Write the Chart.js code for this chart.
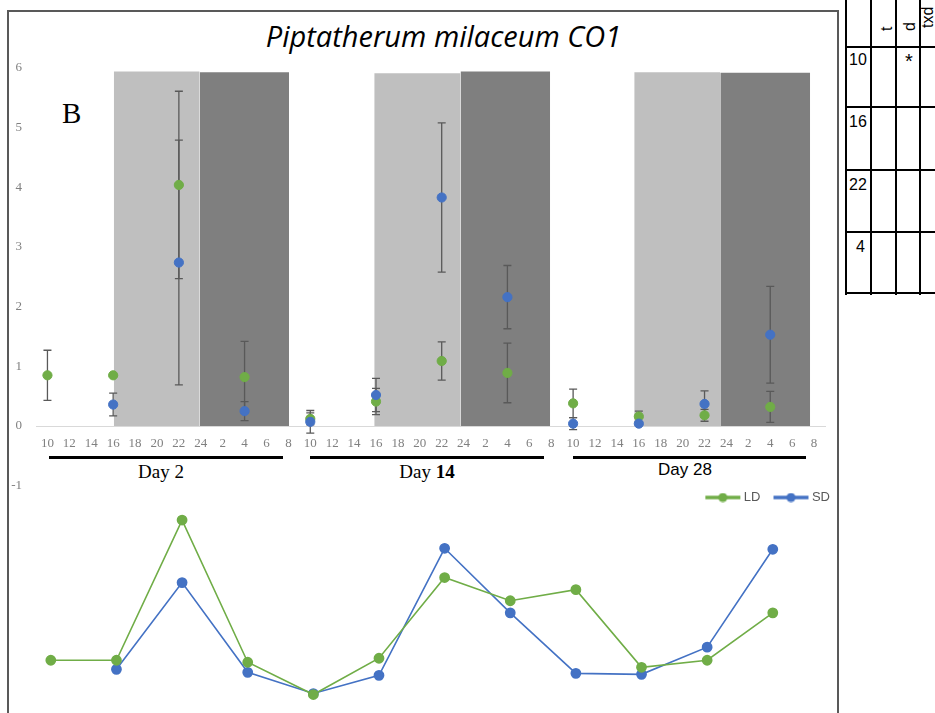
<!DOCTYPE html>
<html>
<head>
<meta charset="utf-8">
<script src="https://cdn.jsdelivr.net/npm/chart.js@4.4.1/dist/chart.umd.min.js"></script>
<style>
  html, body { margin: 0; padding: 0; background: #fff; }
  #stage { position: relative; width: 935px; height: 713px; overflow: hidden; }
  .abs { position: absolute; }
  #frame { left: 7px; top: 10px; width: 828px; height: 720px; border: 2px solid #595959; border-bottom: none; }
  #title { left: 0; top: 19px; width: 887px; text-align: center; font: italic 29px/34px "Open Sans", sans-serif; color: #000; white-space: nowrap; }
  #panel { left: 62px; top: 99px; font: 29px/29px "Liberation Serif", serif; color: #000; }
  .day { width: 120px; text-align: center; color: #000; white-space: nowrap; }
  .serif { font: 19px/19px "Liberation Serif", serif; }
  .sans { font: 17px/17px "Liberation Sans", sans-serif; }
  .bar { height: 3px; background: #000; }
  .vl { width: 2px; background: #000; top: -5px; height: 300px; }
  .hl { height: 2px; background: #000; left: 845px; width: 100px; }
  .cell { font: 16px/16px "Liberation Sans", sans-serif; color: #000; }
  .rot { font: 16px/16px "Liberation Sans", sans-serif; width: 16px; height: 34px; top: -3px;
         writing-mode: vertical-rl; transform: rotate(180deg); color: #000; white-space: nowrap; }
  canvas { position: absolute; }
</style>
</head>
<body>
<div id="stage">
  <div id="frame" class="abs"></div>
  <div id="title" class="abs">Piptatherum milaceum CO1</div>
  <div id="panel" class="abs">B</div>

  <div class="abs day serif" style="left:101px;top:462px;">Day 2</div>
  <div class="abs day serif" style="left:367px;top:462px;">Day <b>14</b></div>
  <div class="abs day sans" style="left:625px;top:461px;">Day 28</div>
  <div class="abs bar" style="left:49px;top:456px;width:234px;"></div>
  <div class="abs bar" style="left:310px;top:456px;width:234px;"></div>
  <div class="abs bar" style="left:573px;top:456px;width:233px;"></div>

  <!-- cropped statistics table on the right -->
  <div class="abs vl" style="left:845px;"></div>
  <div class="abs vl" style="left:870px;"></div>
  <div class="abs vl" style="left:895px;"></div>
  <div class="abs vl" style="left:919px;"></div>
  <div class="abs hl" style="top:46px;"></div>
  <div class="abs hl" style="top:106px;"></div>
  <div class="abs hl" style="top:169px;"></div>
  <div class="abs hl" style="top:231px;"></div>
  <div class="abs hl" style="top:292px;"></div>
  <div class="abs rot" style="left:879px;">t</div>
  <div class="abs rot" style="left:902px;">d</div>
  <div class="abs rot" style="left:920px;top:-6px;">txd</div>
  <div class="abs cell" style="left:849px;top:52px;">10</div>
  <div class="abs cell" style="left:905px;top:53px;font-size:20px;">*</div>
  <div class="abs cell" style="left:849px;top:114px;">16</div>
  <div class="abs cell" style="left:849px;top:177px;">22</div>
  <div class="abs cell" style="left:856px;top:239px;">4</div>

  <canvas id="dotsChart" width="830" height="498" style="left:8px;top:10px;"></canvas>
  <canvas id="lineChart" width="838" height="257" style="left:8px;top:475px;"></canvas>
</div>

<script>
// hour tick labels, repeated for every sampling day
const hourLabels = ['10', '12', '14', '16', '18', '20', '22', '24', '2', '4', '6', '8'];
const dayLabels = ['Day 2', 'Day 14', 'Day 28'];
const sampledHours = ['10', '16', '22', '4'];

// mean expression and error (top panel), one value per sample in day order
const ldMeans = [0.85, 0.85, 4.04, 0.82, 0.12, 0.41, 1.09, 0.89, 0.38, 0.16, 0.18, 0.32];
const ldErr   = [0.42, 0,    1.57, 0.60, 0.10, 0.22, 0.32, 0.50, 0.24, 0.09, 0.10, 0.26];
const sdMeans = [null, 0.36, 2.74, 0.25, 0.07, 0.52, 3.83, 2.16, 0.04, 0.04, 0.37, 1.53];
const sdErr   = [null, 0.19, 2.05, 0.16, 0.19, 0.28, 1.25, 0.53, 0.10, 0,    0.22, 0.81];

// light / dark periods on the hour axis (axis position units) and their heights
const lightStart = [3.03, 14.92, 26.79];
const lightEnd   = [6.95, 18.86, 30.72];
const darkEnd    = [11.03, 22.95, 34.82];
const lightTop   = [5.94, 5.91, 5.93];
const darkTop    = [5.93, 5.94, 5.92];

// relative levels for the lower line panel
const ldRelative = [6.5, 6.5, 20.4, 6.3, 3.1, 6.7, 14.7, 12.4, 13.5, 5.8, 6.5, 11.2];
const sdRelative = [null, 5.6, 14.2, 5.3, 3.2, 5.0, 17.6, 11.2, 5.2, 5.1, 7.8, 17.5];

const GREEN = '#70ad47';
const BLUE = '#4472c4';
const SERIF = '"Liberation Serif", "Times New Roman", serif';
const SANS = '"Liberation Sans", Arial, sans-serif';

const axisTicks = dayLabels.flatMap(() => hourLabels);
const sampleSlots = dayLabels.flatMap((_, d) => sampledHours.map(h => d * hourLabels.length + hourLabels.indexOf(h)));
const sampleNames = dayLabels.flatMap(day => sampledHours.map(h => `${day} ${h}h`));

const toPoints = means => means.map((v, i) => (v === null ? null : { x: sampleSlots[i], y: v })).filter(Boolean);

/**
 * A filled rectangle (light or dark period) drawn as a line area down to zero.
 */
function periodBlock(from, to, top, color) {
    return {
        type: 'line',
        data: [{ x: from, y: top }, { x: to, y: top }],
        backgroundColor: color,
        borderWidth: 0,
        pointRadius: 0,
        fill: 'origin'
    };
}

// error bars, drawn right before the LD markers so they sit above the shading
const errorBars = {
    id: 'errorBars',
    beforeDatasetDraw(chart, args) {
        if (args.index !== 1) return;
        const { ctx, scales: { x, y } } = chart;
        ctx.save();
        ctx.strokeStyle = '#595959';
        ctx.lineWidth = 1.3;
        [[ldMeans, ldErr], [sdMeans, sdErr]].forEach(([means, errs]) => {
            means.forEach((m, i) => {
                if (m === null || !errs[i]) return;
                const px = x.getPixelForValue(sampleSlots[i]);
                const hi = y.getPixelForValue(m + errs[i]);
                const lo = y.getPixelForValue(m - errs[i]);
                ctx.beginPath();
                ctx.moveTo(px, hi); ctx.lineTo(px, lo);
                ctx.moveTo(px - 4, hi); ctx.lineTo(px + 4, hi);
                ctx.moveTo(px - 4, lo); ctx.lineTo(px + 4, lo);
                ctx.stroke();
            });
        });
        ctx.restore();
    }
};

const blocks = [
    ...lightStart.map((s, i) => periodBlock(s, lightEnd[i], lightTop[i], '#bfbfbf')),
    ...lightEnd.map((s, i) => periodBlock(s, darkEnd[i], darkTop[i], '#7f7f7f'))
];

new Chart(document.getElementById('dotsChart'), {
    type: 'scatter',
    data: {
        datasets: [
            { label: 'SD', data: toPoints(sdMeans), backgroundColor: BLUE, borderColor: BLUE, pointRadius: 4.6, pointHoverRadius: 4.6 },
            { label: 'LD', data: toPoints(ldMeans), backgroundColor: GREEN, borderColor: GREEN, pointRadius: 4.6, pointHoverRadius: 4.6 },
            ...blocks
        ]
    },
    options: {
        responsive: false,
        animation: false,
        devicePixelRatio: 1,
        layout: { padding: { top: 58, right: 13, bottom: 5, left: 0 } },
        plugins: { legend: { display: false }, tooltip: { enabled: false } },
        scales: {
            x: {
                type: 'linear',
                min: -0.5,
                max: 35.5,
                position: { y: 0 },
                grid: { display: false, drawTicks: false },
                border: { display: true, color: '#d9d9d9', width: 1 },
                afterBuildTicks: s => { s.ticks = axisTicks.map((_, i) => ({ value: i })); },
                ticks: {
                    autoSkip: false,
                    maxRotation: 0,
                    padding: 10,
                    color: '#808080',
                    font: { family: SERIF, size: 13 },
                    callback: v => axisTicks[v]
                }
            },
            y: {
                min: -1,
                max: 6,
                grid: { display: false, drawTicks: false },
                border: { display: false },
                afterFit: s => { s.width = 28.5; },
                ticks: { stepSize: 1, padding: 14.5, color: '#808080', font: { family: SERIF, size: 13 } }
            }
        }
    },
    plugins: [errorBars]
});

/**
 * Legend swatch: short thick line with a dot, like the spreadsheet legend.
 */
function legendSwatch(color) {
    const c = document.createElement('canvas');
    c.width = 37;
    c.height = 10;
    const g = c.getContext('2d');
    g.strokeStyle = color;
    g.lineWidth = 3.5;
    g.beginPath();
    g.moveTo(1, 5);
    g.lineTo(36, 5);
    g.stroke();
    g.fillStyle = color;
    g.beginPath();
    g.arc(18.5, 5, 4.6, 0, Math.PI * 2);
    g.fill();
    return c;
}

const swatches = [legendSwatch(GREEN), legendSwatch(BLUE)];

new Chart(document.getElementById('lineChart'), {
    type: 'line',
    data: {
        labels: sampleNames,
        datasets: [
            { label: 'LD', data: ldRelative, borderColor: GREEN, backgroundColor: GREEN, borderWidth: 1.6, pointRadius: 4.6, pointHoverRadius: 4.6, tension: 0 },
            { label: 'SD', data: sdRelative, borderColor: BLUE, backgroundColor: BLUE, borderWidth: 1.6, pointRadius: 4.6, pointHoverRadius: 4.6, tension: 0 }
        ]
    },
    options: {
        responsive: false,
        animation: false,
        devicePixelRatio: 1,
        layout: { padding: { top: 0, right: 0, bottom: 0, left: 10 } },
        plugins: {
            tooltip: { enabled: false },
            legend: {
                position: 'top',
                align: 'end',
                labels: {
                    usePointStyle: true,
                    pointStyleWidth: 29,
                    padding: 16,
                    color: '#595959',
                    font: { family: SANS, size: 13 },
                    generateLabels: chart => chart.data.datasets.map((ds, i) => ({
                        text: ds.label,
                        pointStyle: swatches[i],
                        fillStyle: ds.backgroundColor,
                        strokeStyle: ds.borderColor,
                        lineWidth: 0,
                        hidden: false,
                        fontColor: '#595959',
                        datasetIndex: i
                    }))
                }
            }
        },
        scales: {
            x: { display: false, offset: true },
            y: {
                position: 'right',
                min: 0,
                max: 21,
                grid: { display: false, drawTicks: false },
                border: { display: false },
                ticks: { display: false },
                afterFit: s => { s.width = 40.4; }
            }
        }
    }
});
</script>
</body>
</html>
